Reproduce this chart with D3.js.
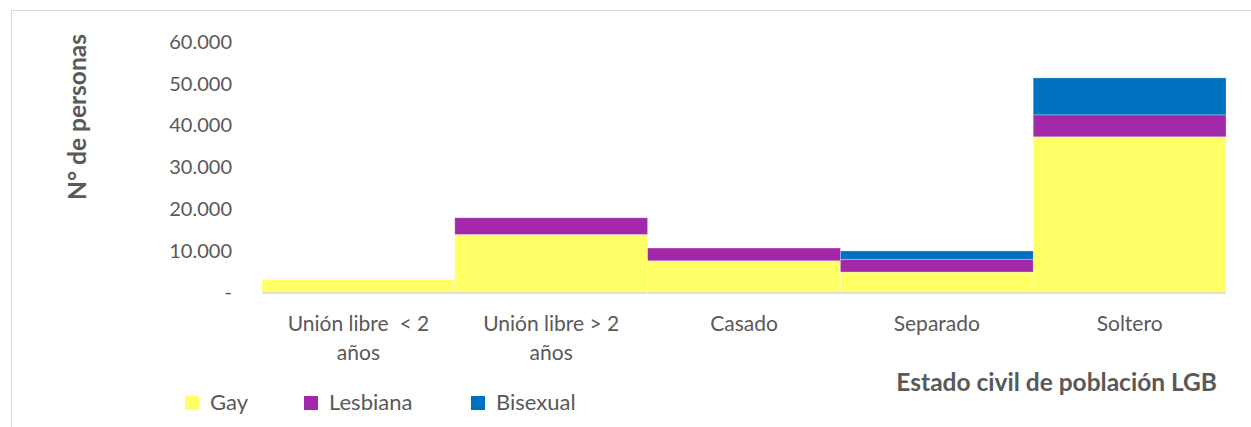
<!DOCTYPE html>
<html>
<head>
<meta charset="utf-8">
<script src="https://cdn.jsdelivr.net/npm/d3@7"></script>
<style>
  body { margin: 0; background: #fff; }
  svg, svg text { font-family: Lato, "Open Sans", sans-serif; }
</style>
</head>
<body>
<div id="chart"></div>
<script>
// Data
const categories = ['Unión libre  < 2 años', 'Unión libre > 2 años', 'Casado', 'Separado', 'Soltero'];
const gay = [3100, 13900, 7600, 4900, 37300];
const lesbiana = [0, 4000, 3050, 3050, 5250];
const bisexual = [0, 0, 0, 2000, 8850];
const seriesNames = ['Gay', 'Lesbiana', 'Bisexual'];
const yTicks = [0, 10000, 20000, 30000, 40000, 50000, 60000];

const width = 1251, height = 427;
const colors = ['#FFFF66', '#A327A9', '#0070C0'];
const textColor = '#595959';
const font = 'Lato, "Open Sans", sans-serif';

const svg = d3.select('#chart')
  .append('svg')
  .attr('width', width)
  .attr('height', height);

// outer chart frame
svg.append('rect')
  .attr('x', 11.5).attr('y', 10.5)
  .attr('width', width).attr('height', height)
  .attr('fill', 'none')
  .attr('stroke', '#d9d9d9');

const x = d3.scaleBand()
  .domain(categories)
  .range([262, 1226])
  .padding(0);

const y = d3.scaleLinear()
  .domain([0, 60000])
  .range([292.5, 42]);

const rows = categories.map((c, i) => ({ cat: c, Gay: gay[i], Lesbiana: lesbiana[i], Bisexual: bisexual[i] }));
const stacked = d3.stack().keys(seriesNames)(rows);

const locale = d3.formatLocale({ decimal: ',', thousands: '.', grouping: [3], currency: ['$', ''] });
const fmt = locale.format(',');

// y axis labels
const yAxis = svg.append('g')
  .attr('transform', 'translate(232,0)')
  .call(d3.axisLeft(y).tickValues(yTicks).tickSize(0).tickPadding(0)
    .tickFormat(d => d === 0 ? '-' : fmt(d)))
  .attr('font-family', font)
  .attr('font-size', 20);
yAxis.select('.domain').remove();
yAxis.selectAll('text')
  .attr('fill', textColor);

// stacked bars
svg.append('g')
  .selectAll('g')
  .data(stacked)
  .enter()
  .append('g')
  .attr('fill', (d, i) => colors[i])
  .selectAll('rect')
  .data(d => d.filter(s => s[1] - s[0] > 0))
  .enter()
  .append('rect')
  .attr('x', d => x(d.data.cat))
  .attr('width', x.bandwidth())
  .attr('y', d => y(d[1]))
  .attr('height', d => y(d[0]) - y(d[1]))
  .attr('stroke', '#ffffff')
  .attr('stroke-opacity', 0.35)
  .attr('stroke-width', 0.8);

// baseline
svg.append('line')
  .attr('x1', 262).attr('x2', 1226)
  .attr('y1', y(0) + 0.5).attr('y2', y(0) + 0.5)
  .attr('stroke', '#d9d9d9')
  .attr('stroke-width', 1.5);

// category labels, wrapped like the original
const xAxis = svg.append('g')
  .attr('transform', `translate(0,${y(0)})`)
  .call(d3.axisBottom(x).tickSize(0).tickPadding(0))
  .attr('font-family', font)
  .attr('font-size', 21);
xAxis.select('.domain').remove();
xAxis.selectAll('text')
  .attr('fill', textColor)
  .style('white-space', 'pre')
  .attr('y', 0)
  .attr('dy', null)
  .each(function (d) {
    const el = d3.select(this);
    const words = d.split(' ');
    const lines = [];
    let cur = '';
    const maxW = 175;
    el.text('');
    const probe = el.append('tspan');
    words.forEach(w => {
      const test = cur === '' ? w : cur + ' ' + w;
      probe.text(test);
      if (probe.node().getComputedTextLength() > maxW && cur !== '') {
        lines.push(cur);
        cur = w;
      } else {
        cur = test;
      }
    });
    lines.push(cur);
    probe.remove();
    lines.forEach((l, k) => {
      el.append('tspan')
        .attr('x', 0)
        .attr('y', 38 + k * 29)
        .text(l);
    });
  });

// axis titles
svg.append('text')
  .attr('transform', 'translate(86,117) rotate(-90)')
  .attr('text-anchor', 'middle')
  .attr('fill', textColor)
  .style('font-size', '24.5px')
  .style('font-weight', 'bold')
  .text('N° de personas');

svg.append('text')
  .attr('x', 1217)
  .attr('y', 391)
  .attr('text-anchor', 'end')
  .attr('fill', textColor)
  .style('font-size', '24.5px')
  .style('font-weight', 'bold')
  .text('Estado civil de población LGB');

// legend
const legendX = [185, 304, 471];
const legend = svg.append('g')
  .selectAll('g')
  .data(seriesNames)
  .enter()
  .append('g')
  .attr('transform', (d, i) => `translate(${legendX[i]},396)`);
legend.append('rect')
  .attr('width', 14).attr('height', 14)
  .attr('fill', (d, i) => colors[i]);
legend.append('text')
  .attr('x', 25)
  .attr('y', 14)
  .attr('fill', textColor)
  .style('font-size', '22px')
  .text(d => d);
</script>
</body>
</html>
